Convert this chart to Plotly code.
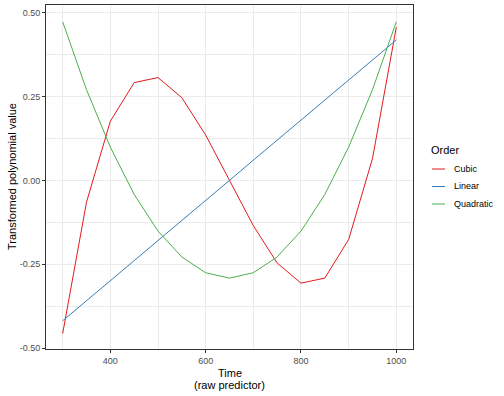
import plotly.graph_objects as go

time = [300, 350, 400, 450, 500, 550, 600, 650, 700, 750, 800, 850, 900, 950, 1000]
linear = [-0.418, -0.359, -0.299, -0.239, -0.179, -0.120, -0.060, 0.000,
          0.060, 0.120, 0.179, 0.239, 0.299, 0.359, 0.418]
quadratic = [0.472, 0.270, 0.099, -0.042, -0.151, -0.228, -0.275, -0.291,
             -0.275, -0.228, -0.151, -0.042, 0.099, 0.270, 0.472]
cubic = [-0.456, -0.065, 0.176, 0.291, 0.306, 0.246, 0.135, 0.000,
         -0.135, -0.246, -0.306, -0.291, -0.176, 0.065, 0.456]

series = [("Cubic", cubic, "#E41A1C"), ("Linear", linear, "#377EB8"), ("Quadratic", quadratic, "#4DAF4A")]

x_ticks = [400, 600, 800, 1000]
y_ticks = [0.5, 0.25, 0.0, -0.25, -0.5]
y_labels = ["0.50", "0.25", "0.00", "-0.25", "-0.50"]

FONT = "Liberation Sans, Arial, sans-serif"
W, H = 504, 396
L, R, T, B = 46, 91, 5, 47
PW, PH = W - L - R, H - T - B


def px(x):
    return (x - L) / PW


def py(y):
    return (H - B - y) / PH


fig = go.Figure()
for name, vals, col in series:
    fig.add_trace(go.Scatter(x=time, y=vals, mode="lines", name=name, showlegend=False,
                             line=dict(color=col, width=1)))

axis_common = dict(showline=True, linecolor="#333333", linewidth=1, mirror=True,
                   ticks="outside", ticklen=3, tickcolor="#333333", tickwidth=1,
                   gridcolor="#EBEBEB", gridwidth=1, zeroline=False, automargin=False,
                   tickfont=dict(family=FONT, size=9, color="#4D4D4D"))

fig.update_xaxes(range=[265, 1035], tickvals=x_ticks,
                 minor=dict(tickvals=[300, 500, 700, 900], showgrid=True, gridcolor="#EBEBEB", gridwidth=0.5, ticks=""),
                 **axis_common)
fig.update_yaxes(range=[-0.502, 0.522], tickvals=y_ticks, ticktext=y_labels,
                 minor=dict(tickvals=[0.375, 0.125, -0.125, -0.375], showgrid=True, gridcolor="#EBEBEB", gridwidth=0.5, ticks=""),
                 **axis_common)

annotations = [
    dict(text="Time", x=px(229.5), y=py(373), xref="paper", yref="paper", showarrow=False,
         font=dict(family=FONT, size=11, color="black"), xanchor="center", yanchor="middle"),
    dict(text="(raw predictor)", x=px(229.5), y=py(385), xref="paper", yref="paper", showarrow=False,
         font=dict(family=FONT, size=11, color="black"), xanchor="center", yanchor="middle"),
    dict(text="Transformed polynomial value", x=px(12), y=py(177), xref="paper", yref="paper",
         showarrow=False, textangle=-90,
         font=dict(family=FONT, size=11, color="black"), xanchor="center", yanchor="middle"),
    dict(text="Order", x=px(429), y=py(150), xref="paper", yref="paper", showarrow=False,
         font=dict(family=FONT, size=11, color="black"), xanchor="left", yanchor="middle"),
]
shapes = []
leg_y = [169, 186.5, 204]
for (name, _, col), ly in zip(series, leg_y):
    shapes.append(dict(type="line", xref="paper", yref="paper", x0=px(432), x1=px(445),
                       y0=py(ly), y1=py(ly), line=dict(color=col, width=1)))
    annotations.append(dict(text=name, x=px(452), y=py(ly), xref="paper", yref="paper",
                            showarrow=False, font=dict(family=FONT, size=9, color="black"),
                            xanchor="left", yanchor="middle"))

fig.update_layout(width=W, height=H,
                  margin=dict(l=L, r=R, t=T, b=B, autoexpand=False),
                  paper_bgcolor="white", plot_bgcolor="white",
                  font=dict(family=FONT, size=9, color="black"),
                  showlegend=False, annotations=annotations, shapes=shapes)

fig.write_html("out.html", config={"displayModeBar": False},
               post_script="document.body.style.margin='0';document.body.style.overflow='hidden';")
